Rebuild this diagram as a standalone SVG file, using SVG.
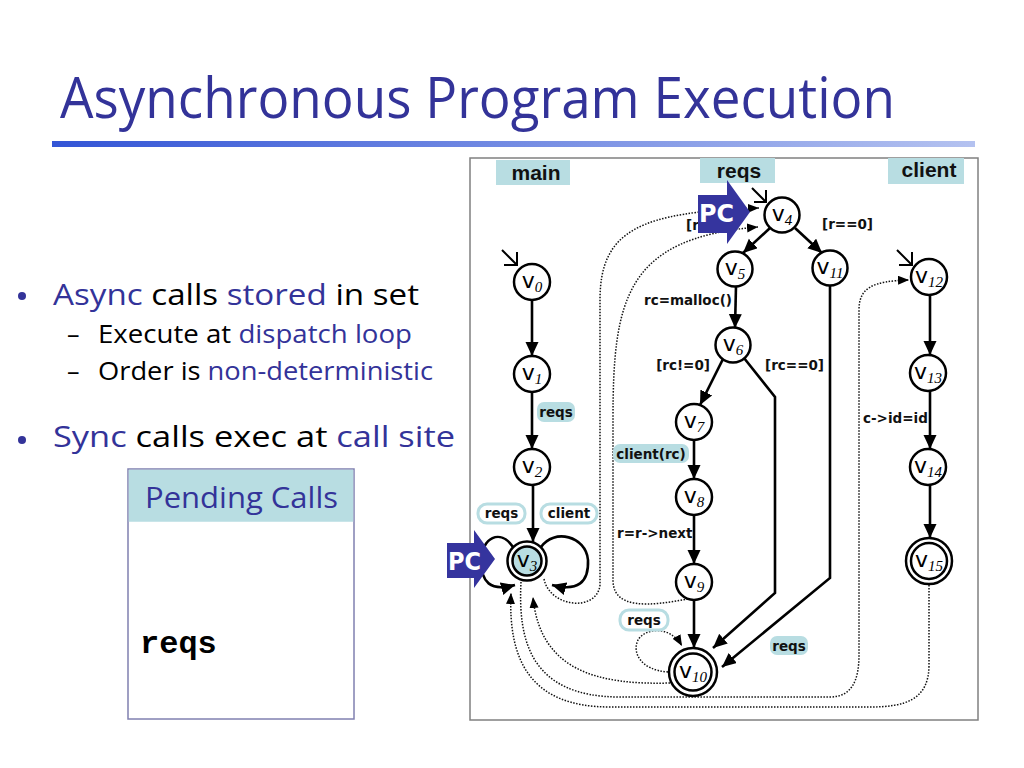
<svg xmlns="http://www.w3.org/2000/svg" width="1024" height="768" viewBox="0 0 1024 768">
<defs>
<linearGradient id="bar" x1="0" y1="0" x2="1" y2="0">
<stop offset="0" stop-color="#3355d6"/>
<stop offset="1" stop-color="#b4c2f0"/>
</linearGradient>
<marker id="ah" markerUnits="userSpaceOnUse" markerWidth="15" markerHeight="14" refX="14" refY="6.5" orient="auto">
<path d="M0,0 L14,6.5 L0,13 z" fill="#000"/>
</marker>
<marker id="ahd" markerUnits="userSpaceOnUse" markerWidth="12" markerHeight="10" refX="11" refY="4.5" orient="auto">
<path d="M0,0 L11,4.5 L0,9 z" fill="#000"/>
</marker>
<style>
.title{font-family:"Open Sans",sans-serif;font-size:56px;fill:#333399}
.b1{font-family:"Open Sans",sans-serif;font-size:29px;fill:#000}
.b2{font-family:"Open Sans",sans-serif;font-size:25px;fill:#000}
.hl{fill:#333399}
.node circle{fill:#fff;stroke:#000;stroke-width:2.5}
.node circle.fill{fill:#b8dde2}
.nv{font-family:"DejaVu Sans",sans-serif;font-size:22px;fill:#000}
.ns{font-family:"Liberation Serif",serif;font-style:italic;font-size:15px}
.edge{fill:none;stroke:#000;stroke-width:2.6}
.init{fill:none;stroke:#000;stroke-width:2}
.dot{fill:none;stroke:#111;stroke-width:1.5;stroke-dasharray:1.5 1.5}
.lbl{font-family:"DejaVu Sans",sans-serif;font-weight:bold;font-size:13.5px;fill:#111}
.col{font-family:"Liberation Sans",Arial,sans-serif;font-weight:bold;font-size:21px;fill:#111}
.teal{fill:#b8dde2}
.pill{fill:#fff;stroke:#b8dde2;stroke-width:3}
.pc{fill:#35349e}
.pct{font-family:"DejaVu Sans",sans-serif;font-weight:bold;font-size:25px;fill:#fff}
</style>
</defs>
<rect width="1024" height="768" fill="#fff"/>

<text class="title" x="60" y="118" textLength="835" lengthAdjust="spacingAndGlyphs">Asynchronous Program Execution</text>
<rect x="52" y="141" width="923" height="6" fill="url(#bar)"/>

<g id="bullets">
<circle cx="22" cy="296" r="4" fill="#333399"/>
<text class="b1" x="53" y="305" textLength="366" lengthAdjust="spacingAndGlyphs"><tspan class="hl">Async</tspan> calls <tspan class="hl">stored</tspan> in set</text>
<text class="b2" x="67" y="343">–</text>
<text class="b2" x="98" y="343" textLength="314" lengthAdjust="spacingAndGlyphs">Execute at <tspan class="hl">dispatch loop</tspan></text>
<text class="b2" x="67" y="380">–</text>
<text class="b2" x="98" y="380" textLength="335" lengthAdjust="spacingAndGlyphs">Order is <tspan class="hl">non-deterministic</tspan></text>
<circle cx="22" cy="440" r="4" fill="#333399"/>
<text class="b1" x="53" y="447" textLength="402" lengthAdjust="spacingAndGlyphs"><tspan class="hl">Sync</tspan> calls exec at <tspan class="hl">call site</tspan></text>
</g>

<g id="pending">
<rect x="128" y="469" width="226" height="250" fill="#fff" stroke="#8080b0" stroke-width="1.5"/>
<rect x="128.75" y="469.75" width="224.5" height="52" fill="#b8dde2"/>
<text x="145" y="508" font-family="Open Sans,sans-serif" font-size="29" fill="#333399" textLength="193" lengthAdjust="spacingAndGlyphs">Pending Calls</text>
<text x="140" y="653" font-family="Liberation Mono,monospace" font-weight="bold" font-size="32" fill="#000">reqs</text>
</g>

<g id="frame">
<rect x="470" y="158" width="508" height="562" fill="#fff" stroke="#808080" stroke-width="1.5"/>
<rect class="teal" x="496" y="160" width="74" height="25"/>
<text class="col" x="536" y="180" text-anchor="middle">main</text>
<rect class="teal" x="700" y="158" width="75" height="25"/>
<text class="col" x="739" y="178" text-anchor="middle">reqs</text>
<rect class="teal" x="888" y="158" width="76" height="26"/>
<text class="col" x="929" y="177" text-anchor="middle">client</text>
</g>

<g id="connectors">
<!-- dotted dispatch connectors -->
<path class="dot" d="M544,579 C550,608 597,612 600,585 L600,300 C600,230 640,212 759,208" marker-end="url(#ahd)"/>
<path class="dot" d="M688,599 C650,606 613,610 613,580 L613,420 C613,300 625,238 758,227" marker-end="url(#ahd)"/>
<path class="dot" d="M521,582 C518,640 530,697 620,697 L830,697 C852,697 859,680 859,655 L859,310 C859,288 872,281 909,280" marker-end="url(#ahd)"/>
<path class="dot" d="M929,585 L929,665 C929,700 905,707 870,707 L610,707 C530,707 508,660 511,593" marker-end="url(#ahd)"/>
<path class="dot" d="M670,683 C600,685 540,672 533,597" marker-end="url(#ahd)"/>
<path class="dot" d="M668,672 C640,670 632,652 638,640 C645,628 670,625 682,646" marker-end="url(#ahd)"/>

<!-- initial arrows -->
<path class="init" d="M502,250 L517,265 M517,252 L517,265 L504,265"/>
<path class="init" d="M752,188 L766,202 M766,190 L766,202 L754,202"/>
<path class="init" d="M897,250 L912,265 M912,252 L912,265 L899,265"/>

<!-- main -->
<path class="edge" d="M532,300 L532,356" marker-end="url(#ah)"/>
<path class="edge" d="M532,392 L532,449" marker-end="url(#ah)"/>
<path class="edge" d="M533,485 L533,542" marker-end="url(#ah)"/>
<path class="edge" d="M513,547 C500,528 482,538 481,560 C481,582 490,592 515,585" marker-end="url(#ah)"/>
<path class="edge" d="M541,547 C554,528 586,536 588,560 C589,582 578,592 552,585" marker-end="url(#ah)"/>

<!-- reqs -->
<path class="edge" d="M770,228 L743,253" marker-end="url(#ah)"/>
<path class="edge" d="M795,228 L822,253" marker-end="url(#ah)"/>
<path class="edge" d="M736,286 L735,328" marker-end="url(#ah)"/>
<path class="edge" d="M723,359 L700,405" marker-end="url(#ah)"/>
<path class="edge" d="M744,358 L775,397 L775,593 L713,648" marker-end="url(#ah)"/>
<path class="edge" d="M830,285 L830,578 L722,667" marker-end="url(#ah)"/>
<path class="edge" d="M694,440 L694,479" marker-end="url(#ah)"/>
<path class="edge" d="M694,515 L694,564" marker-end="url(#ah)"/>
<path class="edge" d="M694,600 L694,648" marker-end="url(#ah)"/>

<!-- client -->
<path class="edge" d="M930,295 L930,355" marker-end="url(#ah)"/>
<path class="edge" d="M930,391 L930,449" marker-end="url(#ah)"/>
<path class="edge" d="M930,485 L930,538" marker-end="url(#ah)"/>

<!-- edge labels -->
<rect class="teal" x="537" y="402" width="38" height="20" rx="7"/>
<text class="lbl" x="556" y="417" text-anchor="middle">reqs</text>
<rect class="pill" x="478" y="504" width="47" height="19" rx="9"/>
<text class="lbl" x="501.5" y="518" text-anchor="middle">reqs</text>
<rect class="pill" x="541" y="504" width="56" height="19" rx="9"/>
<text class="lbl" x="569" y="518" text-anchor="middle">client</text>
<text class="lbl" x="686" y="230">[r!=0]</text>
<text class="lbl" x="822" y="229">[r==0]</text>
<text class="lbl" x="732" y="305" text-anchor="end">rc=malloc()</text>
<text class="lbl" x="710" y="370" text-anchor="end">[rc!=0]</text>
<text class="lbl" x="765" y="370">[rc==0]</text>
<rect class="teal" x="613" y="444" width="76" height="19" rx="7"/>
<text class="lbl" x="651" y="459" text-anchor="middle">client(rc)</text>
<text class="lbl" x="617" y="538">r=r-&gt;next</text>
<rect class="pill" x="620" y="610" width="48" height="20" rx="9"/>
<text class="lbl" x="644" y="625" text-anchor="middle">reqs</text>
<rect class="teal" x="770" y="636" width="38" height="19" rx="7"/>
<text class="lbl" x="789" y="651" text-anchor="middle">reqs</text>
<text class="lbl" x="863" y="423">c-&gt;id=id</text>
</g>

<g id="v0" class="node"><circle cx="532" cy="282" r="18"/><text class="nv" x="532" y="288" text-anchor="middle">v<tspan class="ns" dy="4">0</tspan></text></g>
<g id="v1" class="node"><circle cx="532" cy="374" r="18"/><text class="nv" x="532" y="380" text-anchor="middle">v<tspan class="ns" dy="4">1</tspan></text></g>
<g id="v2" class="node"><circle cx="532" cy="467" r="18"/><text class="nv" x="532" y="473" text-anchor="middle">v<tspan class="ns" dy="4">2</tspan></text></g>
<g id="v3" class="node"><circle cx="527" cy="561" r="19.5"/><circle class="fill" cx="527" cy="561" r="14.5"/><text class="nv" x="527" y="567" text-anchor="middle">v<tspan class="ns" dy="4">3</tspan></text></g>
<g id="v4" class="node"><circle cx="782" cy="215" r="17.5"/><text class="nv" x="782" y="221" text-anchor="middle">v<tspan class="ns" dy="4">4</tspan></text></g>
<g id="v5" class="node"><circle cx="735" cy="269" r="17.5"/><text class="nv" x="735" y="275" text-anchor="middle">v<tspan class="ns" dy="4">5</tspan></text></g>
<g id="v11" class="node"><circle cx="830" cy="268" r="17.5"/><text class="nv" x="830" y="274" text-anchor="middle">v<tspan class="ns" dy="4">11</tspan></text></g>
<g id="v6" class="node"><circle cx="733" cy="345" r="17.5"/><text class="nv" x="733" y="351" text-anchor="middle">v<tspan class="ns" dy="4">6</tspan></text></g>
<g id="v7" class="node"><circle cx="694" cy="422" r="18"/><text class="nv" x="694" y="428" text-anchor="middle">v<tspan class="ns" dy="4">7</tspan></text></g>
<g id="v8" class="node"><circle cx="694" cy="497" r="18"/><text class="nv" x="694" y="503" text-anchor="middle">v<tspan class="ns" dy="4">8</tspan></text></g>
<g id="v9" class="node"><circle cx="694" cy="582" r="18"/><text class="nv" x="694" y="588" text-anchor="middle">v<tspan class="ns" dy="4">9</tspan></text></g>
<g id="v10" class="node"><circle cx="693" cy="672" r="24"/><circle cx="693" cy="672" r="18.5"/><text class="nv" x="693" y="678" text-anchor="middle">v<tspan class="ns" dy="4">10</tspan></text></g>
<g id="v12" class="node"><circle cx="929" cy="277" r="18"/><text class="nv" x="929" y="283" text-anchor="middle">v<tspan class="ns" dy="4">12</tspan></text></g>
<g id="v13" class="node"><circle cx="928" cy="373" r="18"/><text class="nv" x="928" y="379" text-anchor="middle">v<tspan class="ns" dy="4">13</tspan></text></g>
<g id="v14" class="node"><circle cx="928" cy="467" r="18"/><text class="nv" x="928" y="473" text-anchor="middle">v<tspan class="ns" dy="4">14</tspan></text></g>
<g id="v15" class="node"><circle cx="929" cy="561" r="23"/><circle cx="929" cy="561" r="18"/><text class="nv" x="929" y="567" text-anchor="middle">v<tspan class="ns" dy="4">15</tspan></text></g>

<g id="pc-reqs">
<polygon class="pc" points="698,195 727,195 727,180 750,212 727,244 727,233 698,233"/>
<text class="pct" x="699" y="222" textLength="35" lengthAdjust="spacingAndGlyphs">PC</text>
</g>
<g id="pc-main">
<polygon class="pc" points="447,543 474,543 474,530 495,559 474,588 474,578 447,578"/>
<text class="pct" x="448" y="570" textLength="33" lengthAdjust="spacingAndGlyphs">PC</text>
</g>
</svg>
